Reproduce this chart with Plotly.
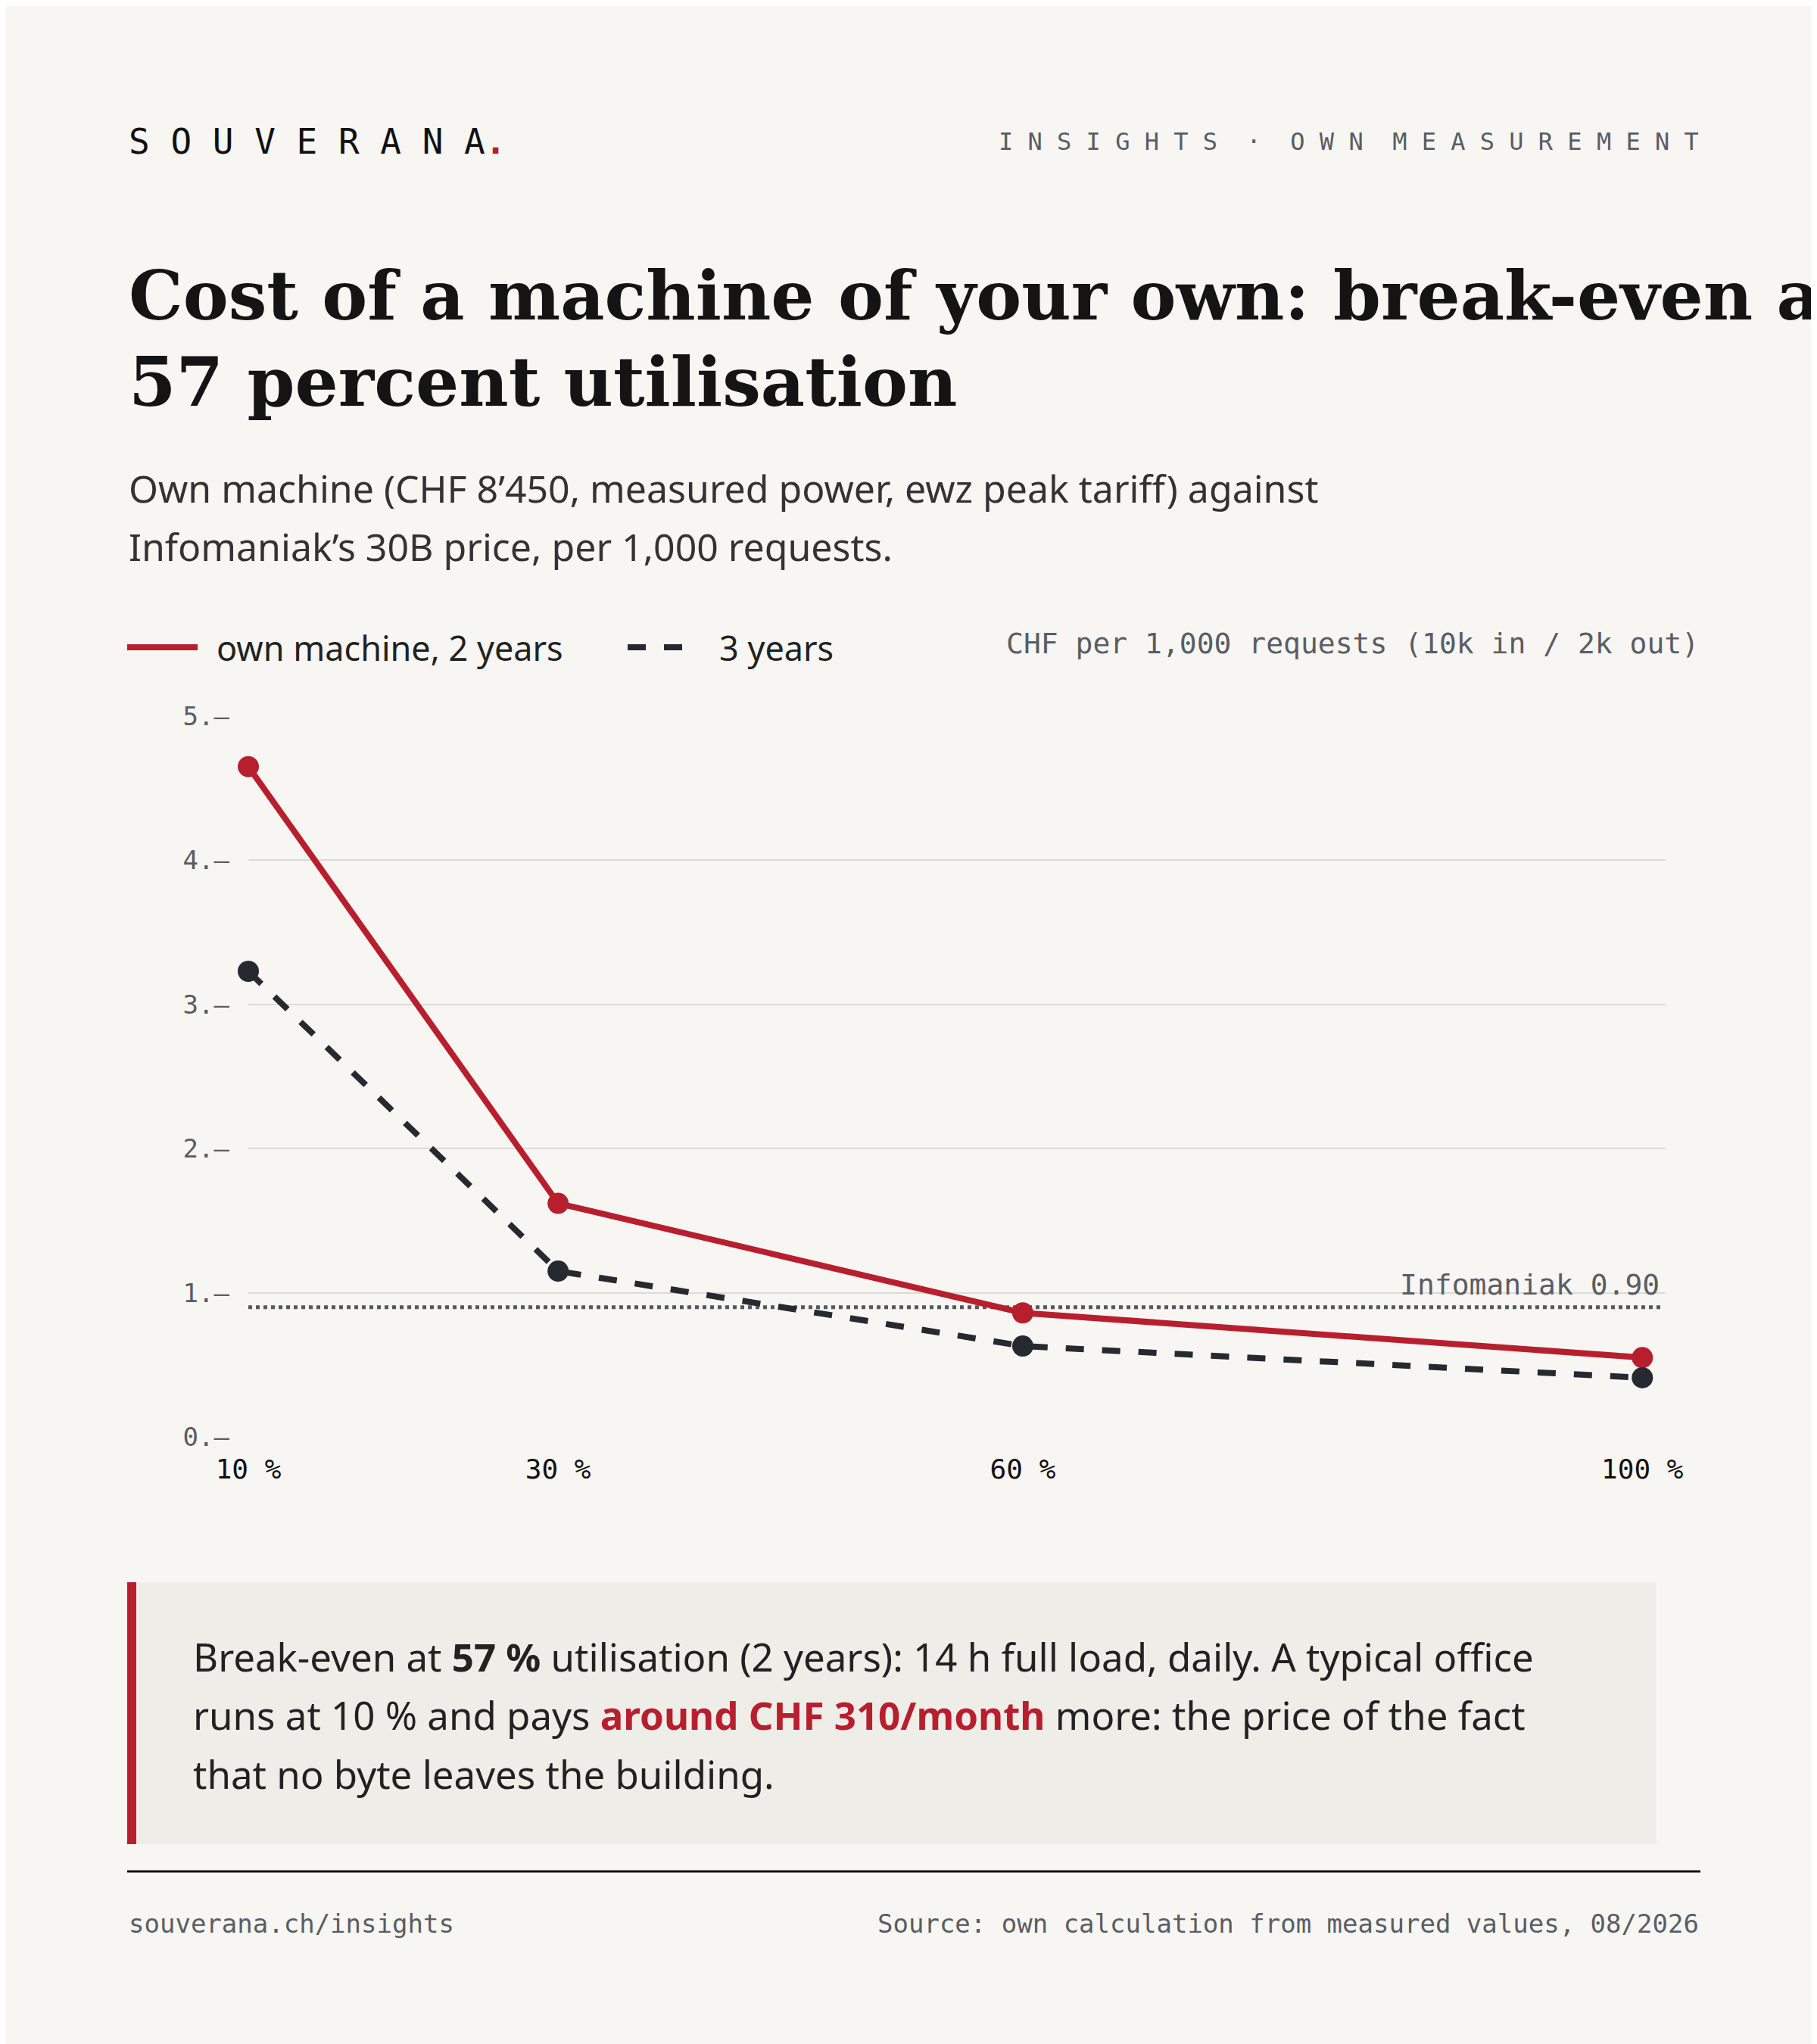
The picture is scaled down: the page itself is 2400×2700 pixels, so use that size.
import plotly.graph_objects as go

utilisation = [10, 30, 60, 100]
x_labels = ["10 %", "30 %", "60 %", "100 %"]
own_2y = [4.65, 1.62, 0.86, 0.55]
own_3y = [3.23, 1.15, 0.63, 0.41]
infomaniak = 0.90
y_ticks = [0, 1, 2, 3, 4, 5]
y_labels = ["0.–", "1.–", "2.–", "3.–", "4.–", "5.–"]

W, H = 2400, 2700
L, R, T, B = 320, 2192, 938, 1890
def px(x): return (x - L) / (R - L)
def py(y): return (B - y) / (B - T)

RED = "#b81f2e"
DARK = "#262a30"
GRAY = "#5a5d63"
BG = "#f7f6f3"
MONO = "DejaVu Sans Mono"
SANS = "Noto Sans"
SERIF = "DejaVu Serif"

fig = go.Figure()
fig.add_trace(go.Scatter(x=utilisation, y=own_2y, mode="lines+markers",
    line=dict(color=RED, width=8), marker=dict(size=28, color=RED), cliponaxis=False))
fig.add_trace(go.Scatter(x=utilisation, y=own_3y, mode="lines+markers",
    line=dict(color=DARK, width=8, dash="dash"), marker=dict(size=28, color=DARK), cliponaxis=False))

shapes = [
    dict(type="line", xref="x", yref="y", x0=10, x1=101.2, y0=infomaniak, y1=infomaniak,
         line=dict(color="#55585e", width=5, dash="dot"), layer="below"),
    dict(type="rect", xref="paper", yref="paper", x0=px(160), x1=px(2180), y0=py(2082), y1=py(2428),
         fillcolor="#efede8", line=dict(width=0), layer="below"),
    dict(type="rect", xref="paper", yref="paper", x0=px(160), x1=px(172), y0=py(2082), y1=py(2428),
         fillcolor=RED, line=dict(width=0)),
    dict(type="line", xref="paper", yref="paper", x0=px(160), x1=px(2238), y0=py(2464), y1=py(2464),
         line=dict(color="#111", width=3)),
    dict(type="line", xref="paper", yref="paper", x0=px(160), x1=px(253), y0=py(847), y1=py(847),
         line=dict(color=RED, width=8)),
    dict(type="line", xref="paper", yref="paper", x0=px(821), x1=px(914), y0=py(847), y1=py(847),
         line=dict(color=DARK, width=8, dash="dash")),
]

def ann(x, y, text, size, color="#1a1a1a", family=SANS, xanchor="left"):
    return dict(x=px(x), y=py(y), xref="paper", yref="paper", text=text, showarrow=False,
                xanchor=xanchor, yanchor="middle", font=dict(size=size, color=color, family=family))

annotations = [
    ann(160, 179, f"S O U V E R A N A<span style='color:{RED}'><b>.</b></span>", 46, "#111", MONO),
    ann(2238, 179, "I N S I G H T S  ·  O W N  M E A S U R E M E N T", 32, GRAY, MONO, "right"),
    ann(160, 382, "<b>Cost of a machine of your own: break-even at</b>", 90, "#141414", SERIF),
    ann(160, 496, "<b>57 percent utilisation</b>", 90, "#141414", SERIF),
    ann(160, 637, "Own machine (CHF 8’450, measured power, ewz peak tariff) against", 50, "#333", SANS),
    ann(160, 714, "Infomaniak’s 30B price, per 1,000 requests.", 50, "#333", SANS),
    ann(276, 848, "own machine, 2 years", 45, "#222", SANS),
    ann(940, 848, "3 years", 45, "#222", SANS),
    ann(2238, 842, "CHF per 1,000 requests (10k in / 2k out)", 38, GRAY, MONO, "right"),
    dict(x=101.2, y=infomaniak, xref="x", yref="y", text="Infomaniak 0.90", showarrow=False,
         xanchor="right", yanchor="bottom", yshift=6, font=dict(size=38, color=GRAY, family=MONO)),
    ann(245, 2180, "Break-even at <b>57 %</b> utilisation (2 years): 14 h full load, daily. A typical office", 51, "#222"),
    ann(245, 2257, f"runs at 10 % and pays <b><span style='color:{RED}'>around CHF 310/month</span></b> more: the price of the fact", 51, "#222"),
    ann(245, 2335, "that no byte leaves the building.", 51, "#222"),
    ann(160, 2533, "souverana.ch/insights", 34, GRAY, MONO),
    ann(2238, 2533, "Source: own calculation from measured values, 08/2026", 34, GRAY, MONO, "right"),
]

fig.update_layout(
    width=W, height=H, paper_bgcolor=BG, plot_bgcolor=BG, showlegend=False,
    margin=dict(l=L, r=W - R, t=T, b=H - B),
    xaxis=dict(range=[10, 101.5], tickvals=utilisation, ticktext=x_labels, showgrid=False,
               zeroline=False, showline=False, ticks="", ticklabelstandoff=18,
               tickfont=dict(family=MONO, size=36, color="#111")),
    yaxis=dict(range=[0, 5], tickvals=y_ticks, ticktext=y_labels, showgrid=True,
               gridcolor="#dcdad5", gridwidth=2, zeroline=False, showline=False, ticks="",
               ticklabelstandoff=24, tickfont=dict(family=MONO, size=34, color=GRAY)),
    shapes=shapes, annotations=annotations,
)
fig.write_html("out.html")
